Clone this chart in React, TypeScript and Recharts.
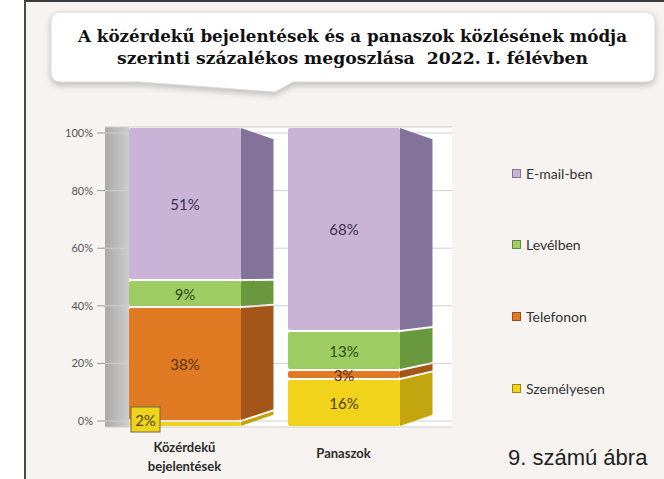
import React from 'react';
import { BarChart, Bar, XAxis, YAxis, CartesianGrid, Legend, LabelList } from 'recharts';

const categories = ['Közérdekű bejelentések', 'Panaszok'];
const szemelyesen = [2, 16];
const telefonon = [38, 3];
const levelben = [9, 13];
const email = [51, 68];
const yTicks = [0, 20, 40, 60, 80, 100];

const titleLine1 = 'A közérdekű bejelentések és a panaszok közlésének módja';
const titleLine2 = 'szerinti százalékos megoszlása  2022. I. félévben';
const caption = '9. számú ábra';

const data = categories.map((name, i) => ({
  name,
  szemelyesen: szemelyesen[i],
  telefonon: telefonon[i],
  levelben: levelben[i],
  email: email[i],
}));

const SERIES = [
  { key: 'szemelyesen', name: 'Személyesen', front: '#f2d31b', side: '#c2a50f', text: '#4a3f05', boxed: true },
  { key: 'telefonon', name: 'Telefonon', front: '#df7a23', side: '#a4561a', text: '#5a2e10', boxed: false },
  { key: 'levelben', name: 'Levélben', front: '#9dcc63', side: '#6a983f', text: '#2f4d1c', boxed: false },
  { key: 'email', name: 'E-mail-ben', front: '#c9b4d7', side: '#83729a', text: '#3b2f4f', boxed: false },
];
const seriesOrder = SERIES.map((s) => s.name);

const makeShape = (front: string, side: string) => (p: any) => {
  const { x, y, width, height, background } = p;
  if (!height || height <= 0) return <g />;
  const vy = background ? background.y + background.height / 2 : y + height / 2;
  const k = 0.075;
  const d = width * 0.29;
  const y1 = y + 1;
  const y2 = y + height - 1;
  const x2 = x + width;
  const sy1 = y1 + (vy - y1) * k;
  const sy2 = y2 + (vy - y2) * k;
  return (
    <g>
      <path d={`M${x2},${y1}L${x2 + d},${sy1}L${x2 + d},${sy2}L${x2},${y2}Z`} fill={side} />
      <rect x={x} y={y1} width={width} height={Math.max(0, y2 - y1)} rx={2} fill={front} />
    </g>
  );
};

const makeLabel = (color: string, front: string, boxed: boolean) => (p: any) => {
  const { x, y, width, height, value } = p;
  const cx = x + width / 2;
  const cy = y + height / 2;
  if (boxed && height < 12) {
    return (
      <g>
        <rect x={x + 2} y={cy - 17} width={29} height={25} fill={front} stroke="#6e6a4a" strokeWidth={1} />
        <text x={x + 16.5} y={cy - 4.5} textAnchor="middle" dominantBaseline="central"
          fontFamily="Lato, sans-serif" fontSize={15} fill={color}>{value}%</text>
      </g>
    );
  }
  return (
    <text x={cx} y={cy} textAnchor="middle" dominantBaseline="central"
      fontFamily="Lato, sans-serif" fontSize={15} fill={color}>{value}%</text>
  );
};

const XTick = (p: any) => {
  const { x, y, payload } = p;
  const words: string[] = String(payload.value).split(' ');
  const style = { fontFamily: 'Lato, sans-serif', fontSize: 13, fontWeight: 700, fill: '#2b2b2b' } as any;
  if (words.length > 1) {
    return (
      <g>
        {words.map((w, i) => (
          <text key={i} x={x} y={y + 20 + i * 19} textAnchor="middle" dominantBaseline="central" style={style}>{w}</text>
        ))}
      </g>
    );
  }
  return <text x={x} y={y + 26} textAnchor="middle" dominantBaseline="central" style={style}>{words[0]}</text>;
};

const LegendContent = (props: any) => {
  const payload = [...(props.payload || [])].sort(
    (a: any, b: any) => seriesOrder.indexOf(b.value) - seriesOrder.indexOf(a.value)
  );
  return (
    <div style={{ display: 'flex', flexDirection: 'column' }}>
      {payload.map((e: any, i: number) => (
        <div key={i} style={{ display: 'flex', alignItems: 'center', height: 20, marginBottom: 51.7 }}>
          <span style={{ display: 'inline-block', width: 7, height: 7, background: e.color, border: '1px solid rgba(0,0,0,0.35)', marginRight: 5 }} />
          <span style={{ fontFamily: 'Lato, sans-serif', fontSize: 14, color: '#333' }}>{e.value}</span>
        </div>
      ))}
    </div>
  );
};

export default function App() {
  return (
    <div style={{ position: 'absolute', left: 0, top: 0, width: 664, height: 479, background: '#fff', overflow: 'hidden' }}>
      <svg width={0} height={0} style={{ position: 'absolute' }}>
        <defs>
          <linearGradient id="wallGrad" x1="0" y1="0" x2="1" y2="0">
            <stop offset="0" stopColor="#a9a9a9" />
            <stop offset="0.069" stopColor="#cdcdcd" />
            <stop offset="0.07" stopColor="#ffffff" />
            <stop offset="1" stopColor="#ffffff" />
          </linearGradient>
        </defs>
      </svg>
      <div style={{ position: 'absolute', left: 24, top: 0, width: 660, height: 479, background: '#f6f3f0', borderLeft: '2px solid #4a4a4a', borderTop: '2px solid #3a3a3a' }} />
      <div style={{ position: 'absolute', left: 0, top: 0 }}>
        <BarChart width={664} height={479} data={data} margin={{ top: 127, right: 212, bottom: 0, left: 55 }}>
          <CartesianGrid yAxisId="t" vertical={false} stroke="#cfcfcf" fill="url(#wallGrad)" fillOpacity={1} />
          <XAxis dataKey="name" height={52} padding={{ left: 0, right: 29 }} axisLine={false} tickLine={false}
            tickSize={0} tickMargin={0} tick={<XTick />} interval={0} />
          <YAxis yAxisId="t" width={50} domain={[-2.0833, 102.0833]} ticks={yTicks} allowDataOverflow
            tickFormatter={(v: number) => `${v}%`} axisLine={false} tickLine={{ stroke: '#999' }} tickSize={8} tickMargin={4}
            tick={{ fontFamily: 'Lato, sans-serif', fontSize: 11, fill: '#555' }} />
          <YAxis yAxisId="b" orientation="right" hide domain={[0, 100]} />
          <Legend layout="vertical" align="center" verticalAlign="middle" content={<LegendContent />}
            wrapperStyle={{ left: 512, top: 163, width: 150, height: 250 }} />
          {SERIES.map((s) => (
            <Bar key={s.key} yAxisId="b" dataKey={s.key} name={s.name} stackId="a" fill={s.front} barSize={112}
              shape={makeShape(s.front, s.side)} isAnimationActive={false}>
              <LabelList dataKey={s.key} content={makeLabel(s.text, s.front, s.boxed)} />
            </Bar>
          ))}
        </BarChart>
      </div>
      <svg width={664} height={479} style={{ position: 'absolute', left: 0, top: 0, pointerEvents: 'none' }}>
        <path
          d="M61,12 H645 Q655,12 655,22 V72 Q655,82 645,82 H293 L275,92 L140,82 H61 Q51,82 51,72 V22 Q51,12 61,12 Z"
          fill="#ffffff" stroke="#dcdcdc" strokeWidth={1}
          style={{ filter: 'drop-shadow(0px 3px 3px rgba(0,0,0,0.22))' }} />
        <text x={78} y={42} textLength={549} lengthAdjust="spacingAndGlyphs"
          fontFamily="'DejaVu Serif', serif" fontWeight={700} fontSize={17} fill="#111">{titleLine1}</text>
        <text x={117} y={64} textLength={471} lengthAdjust="spacingAndGlyphs" style={{ whiteSpace: 'pre' }}
          fontFamily="'DejaVu Serif', serif" fontWeight={700} fontSize={17} fill="#111">{titleLine2}</text>
        <text x={508} y={465} fontFamily="'Liberation Sans', Arial, sans-serif" fontSize={22} fill="#222">{caption}</text>
      </svg>
    </div>
  );
}
